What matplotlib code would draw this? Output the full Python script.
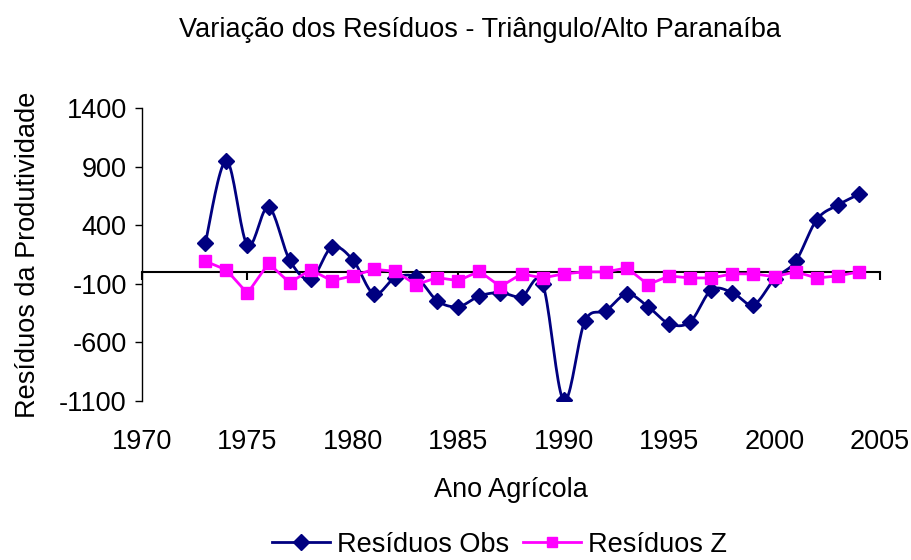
import numpy as np
import matplotlib
matplotlib.use("Agg")
import matplotlib.pyplot as plt
from matplotlib.lines import Line2D

plt.rcParams['font.family'] = ['Liberation Sans', 'DejaVu Sans']
plt.rcParams['axes.unicode_minus'] = False

years = list(range(1973, 2005))
obs = [245, 950, 230, 555, 104, -61, 212, 104, -187, -50, -44, -244,
       -295, -204, -175, -210, -101, -1095, -421, -330, -187, -295, -440, -424,
       -153, -175, -278, -58, 93, 447, 572, 664]
resz = [93, 19, -181, 75, -90, 19, -73, -33, 24, 7, -107, -47,
        -73, 7, -124, -15, -50, -15, 2, 2, 36, -107, -33, -50,
        -50, -15, -15, -39, 2, -50, -33, 2]
xticks = [1970, 1975, 1980, 1985, 1990, 1995, 2000, 2005]
yticks = [-1100, -600, -100, 400, 900, 1400]

NAVY = '#000080'
MAG = '#FF00FF'


def smooth(x, y, n=20):
    x = np.asarray(x, float)
    y = np.asarray(y, float)
    px = np.concatenate([[x[0]], x, [x[-1]]])
    py = np.concatenate([[y[0]], y, [y[-1]]])
    xs, ys = [], []
    for i in range(1, len(px) - 2):
        p0 = np.array([px[i - 1], py[i - 1]])
        p1 = np.array([px[i], py[i]])
        p2 = np.array([px[i + 1], py[i + 1]])
        p3 = np.array([px[i + 2], py[i + 2]])
        c1 = p1 + (p2 - p0) / 6.0
        c2 = p2 - (p3 - p1) / 6.0
        t = np.linspace(0, 1, n)[:, None]
        b = ((1 - t) ** 3) * p1 + 3 * ((1 - t) ** 2) * t * c1 + 3 * (1 - t) * t ** 2 * c2 + t ** 3 * p2
        xs.extend(b[:, 0])
        ys.extend(b[:, 1])
    return np.array(xs), np.array(ys)


fig = plt.figure(figsize=(9.12, 5.6), dpi=100)
ax = fig.add_axes([0.1557, 0.2839, 0.8092, 0.5232])

sx, sy = smooth(years, obs)
ax.plot(sx, sy, color=NAVY, lw=2, zorder=3)
ax.plot(years, obs, linestyle='none', marker='D', color=NAVY, ms=8.5, zorder=4)
ax.plot(years, resz, color=MAG, lw=2, marker='s', ms=8, zorder=5)

ax.set_xlim(1970, 2005)
ax.set_ylim(-1100, 1400)
ax.set_yticks(yticks)
ax.set_xticks(xticks)
ax.tick_params(axis='y', direction='out', length=5, width=1, labelsize=19.5, pad=6)
ax.tick_params(axis='x', length=0, labelsize=19.5, pad=20)
for s in ['top', 'right', 'bottom']:
    ax.spines[s].set_visible(False)
ax.spines['left'].set_linewidth(1)

sec = ax.secondary_xaxis(1100 / 2500)
sec.set_xticks(xticks)
sec.set_xticklabels([])
sec.tick_params(direction='out', length=6, width=1.5)
sec.spines['bottom'].set_linewidth(1.5)

ax.set_xlabel('Ano Agrícola', fontsize=19.5, labelpad=16)
ax.set_ylabel('Resíduos da Produtividade', fontsize=19.5, labelpad=13)
fig.suptitle('Variação dos Resíduos - Triângulo/Alto Paranaíba', fontsize=19.5,
             x=0.526, y=0.946, va='center')

h1 = Line2D([], [], color=NAVY, lw=2, marker='D', ms=8)
h2 = Line2D([], [], color=MAG, lw=2, marker='s', ms=7.5)
fig.legend([h1, h2], ['Resíduos Obs', 'Resíduos Z'], loc='center', bbox_to_anchor=(0.548, 0.027),
           ncol=2, frameon=False, fontsize=19.5, handlelength=2.15, columnspacing=0.5, handletextpad=0.26,
           borderpad=0, borderaxespad=0)

fig.savefig('out.png', dpi=100)
